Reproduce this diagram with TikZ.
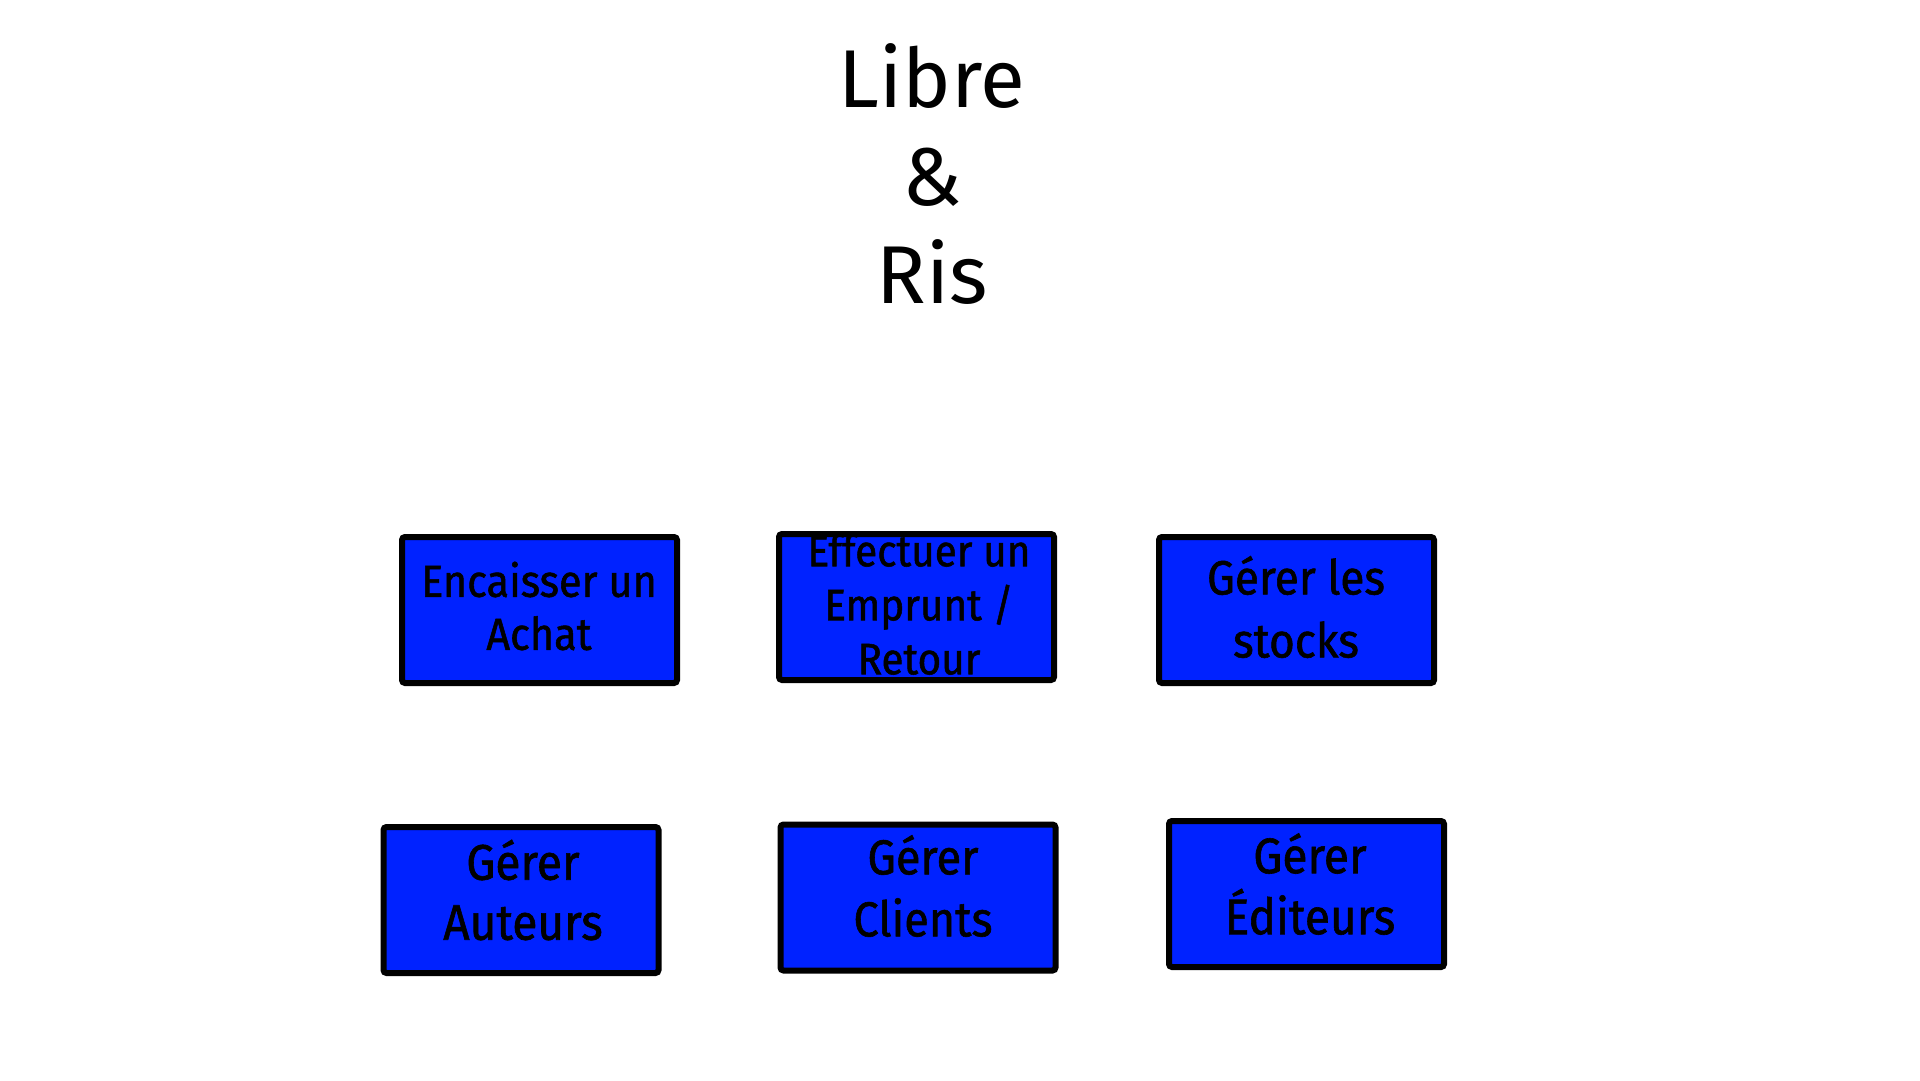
\documentclass[tikz,border=0pt]{standalone}
\usepackage{fontspec}
\setmainfont{Fira Sans}
\newfontfamily\boxfont[FakeStretch=0.92,FakeBold=1.2]{Fira Sans}
\definecolor{boxblue}{RGB}{0,34,255}
\tikzset{
  procbox/.style={draw=black, line width=6pt, fill=boxblue, rounded corners=3pt,
    minimum width=275pt, minimum height=146pt, inner sep=0pt},
  proctext/.style={align=center, inner sep=0pt, text=black}
}
\begin{document}
\begin{tikzpicture}[x=1pt,y=-1pt]
\useasboundingbox (0,0) rectangle (1920,1080);
\node[proctext, font=\fontsize{82}{98}\selectfont] (title) at (932,174) {Libre\\\&\\Ris};
\node[procbox] (b1) at (539.5,610) {};
\node[procbox] (b2) at (916.5,607) {};
\node[procbox] (b3) at (1296.5,610) {};
\node[procbox] (b4) at (521,900) {};
\node[procbox] (b5) at (918,897.5) {};
\node[procbox] (b6) at (1306.5,894) {};
\node[proctext, font=\boxfont\fontsize{45}{53}\selectfont] (t1) at (539,606) {Encaisser un\\Achat};
\node[proctext, font=\boxfont\fontsize{44}{54}\selectfont] (t2) at (919,604) {Effectuer un\\Emprunt /\\Retour};
\node[proctext, font=\boxfont\fontsize{48}{63}\selectfont] (t3) at (1296,607) {Gérer les\\stocks};
\node[proctext, font=\boxfont\fontsize{50}{60}\selectfont] (t4) at (523,890) {Gérer\\Auteurs};
\node[proctext, font=\boxfont\fontsize{49}{62}\selectfont] (t5) at (923,886) {Gérer\\Clients};
\node[proctext, font=\boxfont\fontsize{50}{61}\selectfont] (t6) at (1310,884) {Gérer\\Éditeurs};
\end{tikzpicture}
\end{document}
